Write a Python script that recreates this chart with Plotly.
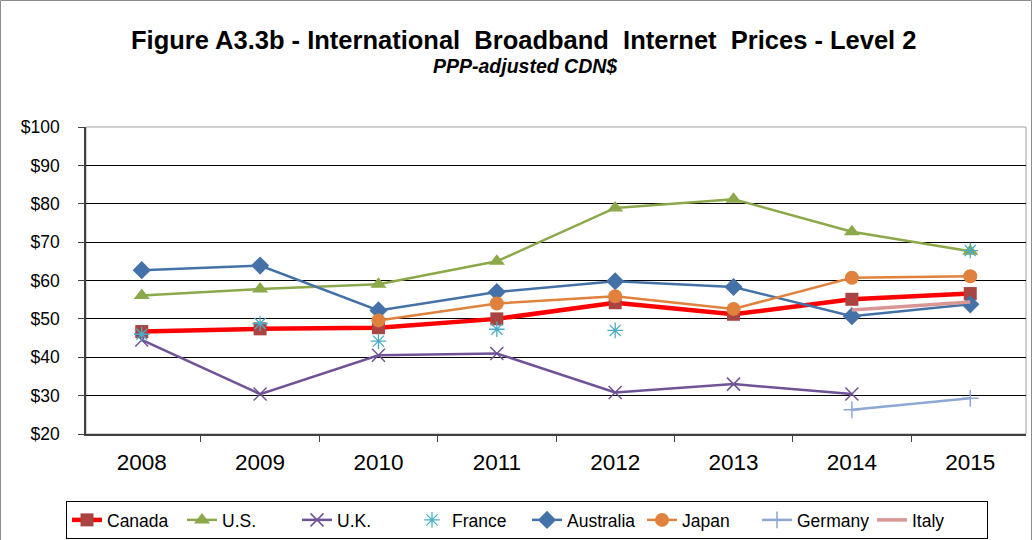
import plotly.graph_objects as go

years = ["2008", "2009", "2010", "2011", "2012", "2013", "2014", "2015"]
canada = [46.7, 47.4, 47.7, 50.0, 54.2, 51.2, 55.1, 56.6]
us = [56.1, 57.8, 59.0, 65.0, 78.9, 81.2, 72.7, 67.6]
uk = [44.5, 30.4, 40.5, 41.0, 30.8, 33.0, 30.4, None]
france = [46.0, 48.8, 44.2, 47.3, 47.0, None, None, 67.8]
australia = [62.7, 63.9, 52.2, 57.0, 59.8, 58.3, 50.7, 53.8]
japan = [None, None, 49.6, 54.0, 55.9, 52.6, 60.7, 61.1]
germany = [None, None, None, None, None, None, 26.3, 29.3]
italy = [None, None, None, None, None, None, 52.3, 54.4]

W, H = 1033, 540
L, R, T, B = 86, 1026, 127, 434

fig = go.Figure()

def add(name, vals, color, width, symbol, msize, mcolor=None, mode="lines+markers", mline=0):
    fig.add_trace(go.Scatter(
        x=years, y=vals, name=name, mode=mode,
        line=dict(color=color, width=width),
        marker=dict(symbol=symbol, size=msize, color=mcolor or color,
                    line=dict(width=mline, color=mcolor or color)),
        connectgaps=False,
    ))

add("Canada", canada, "#FF0000", 4.5, "square", 13, "#A94442")
add("U.S.", us, "#8BA84A", 2.5, "triangle-up", 14)
add("U.K.", uk, "#6F5396", 2.5, "x-thin", 13, mline=1.5)
fig.add_trace(go.Scatter(
    x=years, y=france, name="France", mode="markers",
    marker=dict(symbol="asterisk-open", size=13, color="#4BACC6",
                line=dict(width=1.3, color="#4BACC6")),
))
add("Australia", australia, "#4472A8", 2.5, "diamond", 14)
add("Japan", japan, "#E0823D", 2.5, "circle", 14)
add("Germany", germany, "#8EA8D6", 2.5, "cross-thin", 12, mline=1.5)
add("Italy", italy, "#D99694", 3.5, "circle", 1, mode="lines")

pw = R - L
ph = B - T
def px(x):
    return (x - L) / pw
def py(y):
    return (B - y) / ph

shapes = [
    dict(type="rect", xref="paper", yref="paper", x0=px(0.5), x1=px(W - 1.5),
         y0=py(H + 5), y1=py(0.5), line=dict(color="#8C8C8C", width=1), layer="below"),
    dict(type="rect", xref="paper", yref="paper", x0=0, x1=1, y0=0, y1=1,
         line=dict(color="#A0A0A0", width=1), layer="below"),
]

annotations = [
    dict(text="<b>Figure A3.3b - International  Broadband  Internet  Prices - Level 2</b>",
         xref="paper", yref="paper", x=px(523), y=py(40), showarrow=False,
         font=dict(size=25.5, color="black", family="Arial, Liberation Sans"),
         xanchor="center", yanchor="middle"),
    dict(text="<b><i>PPP-adjusted CDN$</i></b>",
         xref="paper", yref="paper", x=px(525), y=py(66), showarrow=False,
         font=dict(size=19.5, color="black", family="Arial, Liberation Sans"),
         xanchor="center", yanchor="middle"),
]

fig.update_layout(
    width=W, height=H,
    margin=dict(l=L, r=W - R, t=T, b=H - B, autoexpand=False),
    paper_bgcolor="white", plot_bgcolor="white",
    font=dict(family="Arial, Liberation Sans", color="black"),
    shapes=shapes, annotations=annotations,
    showlegend=True,
    legend=dict(
        orientation="h", xref="container", yref="container",
        x=527 / W, xanchor="center", y=1 - 501 / H, yanchor="top",
        bordercolor="black", borderwidth=1, bgcolor="white",
        font=dict(size=17.5, family="Arial, Liberation Sans", color="black"),
        itemwidth=30, tracegroupgap=0, entrywidth=70,
    ),
)

fig.update_xaxes(
    type="category", tickson="boundaries", ticks="outside", ticklen=6,
    tickcolor="#404040", showline=True, linecolor="#404040", linewidth=1.5,
    showgrid=False, tickfont=dict(size=22.5), ticklabelstandoff=7, fixedrange=True,
)
fig.update_yaxes(
    range=[20, 100], dtick=10, tickprefix="$", ticks="outside", ticklen=6,
    tickcolor="#404040", showline=True, linecolor="#404040", linewidth=1.5,
    showgrid=True, gridcolor="black", gridwidth=1, zeroline=False,
    tickfont=dict(size=17.5), ticklabelstandoff=15, fixedrange=True,
)

fig.write_html(
    "out.html",
    config={"displayModeBar": False},
    post_script="document.body.style.margin='0';document.body.style.overflow='hidden';",
)
